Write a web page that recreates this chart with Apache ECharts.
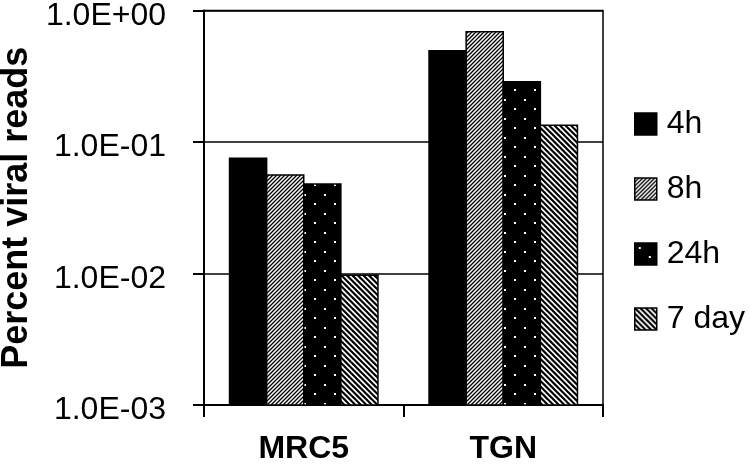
<!DOCTYPE html>
<html>
<head>
<meta charset="utf-8">
<script src="https://cdn.jsdelivr.net/npm/echarts@6/dist/echarts.min.js"></script>
<style>
html,body{margin:0;padding:0;background:#fff;}
#chart{width:750px;height:469px;}
</style>
</head>
<body>
<div id="chart"></div>
<script>
const categories = ['MRC5', 'TGN'];
const seriesNames = ['4h', '8h', '24h', '7 day'];
const values4h = [0.0752, 0.494];
const values8h = [0.0561, 0.690];
const values24h = [0.048, 0.287];
const values7d = [0.0097, 0.134];
const yMin = 0.001;
const yMax = 1;
const yTitle = 'Percent viral reads';

function makeTile(w, h, draw) {
  const c = document.createElement('canvas');
  c.width = w; c.height = h;
  const ctx = c.getContext('2d');
  draw(ctx, w, h);
  return c;
}
// 8h: white with dense "/" stripes
const pat8h = makeTile(8, 8, (ctx, w, h) => {
  ctx.fillStyle = '#fff'; ctx.fillRect(0, 0, w, h);
  ctx.strokeStyle = '#000'; ctx.lineWidth = 1.3;
  for (let c = -8; c <= 24; c += 4) {
    ctx.beginPath(); ctx.moveTo(c + 2, -2); ctx.lineTo(c - 10, 10); ctx.stroke();
  }
});
// 24h: black with white dots
const pat24h = makeTile(20, 19, (ctx, w, h) => {
  ctx.fillStyle = '#000'; ctx.fillRect(0, 0, w, h);
  ctx.fillStyle = '#fff';
  ctx.fillRect(4, 4, 2, 2);
  ctx.fillRect(14, 13, 2, 2);
});
// 7 day: white with "\" stripes
const pat7d = makeTile(11, 11, (ctx, w, h) => {
  ctx.fillStyle = '#fff'; ctx.fillRect(0, 0, w, h);
  ctx.strokeStyle = '#000'; ctx.lineWidth = 2.2;
  for (let c = -22; c <= 22; c += 5.5) {
    ctx.beginPath(); ctx.moveTo(c - 2, -2); ctx.lineTo(c + 13, 13); ctx.stroke();
  }
});

const fills = ['#000', {image: pat8h, repeat: 'repeat'}, {image: pat24h, repeat: 'repeat'}, {image: pat7d, repeat: 'repeat'}];
const allValues = [values4h, values8h, values24h, values7d];
const groupFrac = 1 - 0.256;

function fmt(v) {
  const e = Math.round(Math.log10(v));
  const s = e < 0 ? '-' : '+';
  const a = Math.abs(e);
  return '1.0E' + s + (a < 10 ? '0' : '') + a;
}

const font = 'Liberation Sans';
const chart = echarts.init(document.getElementById('chart'), null, {renderer: 'canvas'});
chart.setOption({
  animation: false,
  backgroundColor: '#fff',
  grid: {left: 204, right: 147, top: 10.5, bottom: 64, outerBoundsMode: 'none', containLabel: false,
         show: true, borderColor: '#000', borderWidth: 1.5, backgroundColor: 'transparent'},
  legend: {
    orient: 'vertical', left: 634, top: 108, padding: 0,
    itemWidth: 22, itemHeight: 22, itemGap: 33,
    data: seriesNames.map((n, i) => ({name: n, icon: 'rect',
      itemStyle: {color: fills[i], borderColor: '#000', borderWidth: 1.5}})),
    textStyle: {fontFamily: font, fontSize: 32, color: '#000', padding: [0, 0, 0, 5]}
  },
  xAxis: {
    type: 'category', data: categories,
    axisLine: {lineStyle: {color: '#000', width: 2}},
    axisTick: {show: true, length: 12, lineStyle: {color: '#000', width: 2}},
    axisLabel: {fontFamily: font, fontSize: 32, fontWeight: 'bold', color: '#000', margin: 28}
  },
  yAxis: {
    type: 'log', logBase: 10, min: yMin, max: yMax,
    name: yTitle, nameLocation: 'middle', nameGap: 166, nameRotate: 90,
    nameTextStyle: {fontFamily: font, fontSize: 36, fontWeight: 'bold', color: '#000'},
    axisLine: {show: true, lineStyle: {color: '#000', width: 2}},
    axisTick: {show: true, length: 11, lineStyle: {color: '#000', width: 2}},
    splitLine: {show: true, lineStyle: {color: '#000', width: 1.5}},
    axisLabel: {fontFamily: font, fontSize: 32, color: '#000', margin: 38,
                verticalAlign: 'top', lineHeight: 11, formatter: fmt}
  },
  series: seriesNames.map((n, i) => ({
    name: n, type: 'custom',
    data: allValues[i].map((v, j) => [j, v]),
    encode: {x: 0, y: 1},
    itemStyle: {color: fills[i], borderColor: '#000', borderWidth: 1.5},
    renderItem: function (params, api) {
      const cat = api.value(0);
      const top = api.coord([cat, api.value(1)]);
      const base = api.coord([cat, yMin]);
      const band = api.size([1, 0])[0];
      const bw = band * groupFrac / 4;
      const x0 = top[0] - band * groupFrac / 2 + i * bw;
      return {
        type: 'rect',
        shape: {x: x0, y: top[1], width: bw, height: base[1] - top[1]},
        style: {fill: fills[i], stroke: '#000', lineWidth: 1.5}
      };
    }
  }))
});
</script>
</body>
</html>
